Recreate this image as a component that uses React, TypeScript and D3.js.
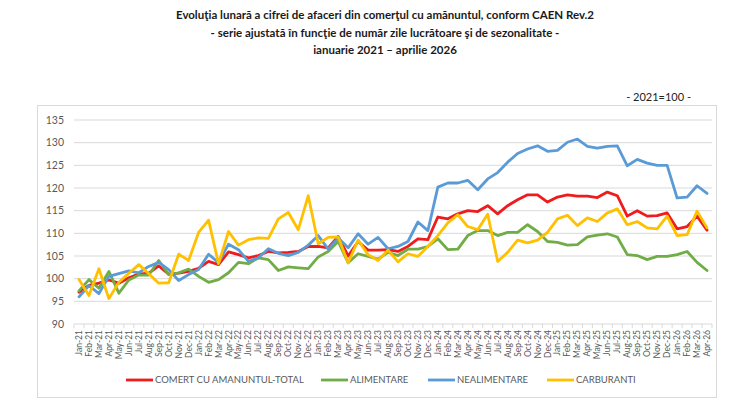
import { useMemo } from "react";
import * as d3 from "d3";

const monthNames = ["Jan", "Feb", "Mar", "Apr", "May", "Jun", "Jul", "Aug", "Sep", "Oct", "Nov", "Dec"];
const years = ["21", "22", "23", "24", "25", "26"];
const months = years
  .flatMap((y) => monthNames.map((m) => `${m}-${y}`))
  .slice(0, 64);

const yTicks = [90, 95, 100, 105, 110, 115, 120, 125, 130, 135];

const total = [
  97.0, 98.5, 99.0, 99.7, 99.0, 100.2, 101.0, 101.2, 102.8, 101.0, 101.2, 101.6,
  102.3, 103.8, 103.1, 105.9, 105.3, 104.6, 105.1, 106.0, 105.7, 105.8, 106.0, 107.1,
  107.1, 106.8, 109.3, 105.0, 108.2, 106.3, 106.3, 106.4, 106.0, 107.1, 108.8, 108.6,
  113.6, 113.2, 114.3, 115.0, 114.8, 116.1, 114.3, 116.1, 117.4, 118.5, 118.5, 116.9,
  118.0, 118.5, 118.2, 118.2, 117.9, 119.1, 118.3, 113.8, 115.0, 113.8, 113.9, 114.5,
  111.0, 111.5, 113.8, 110.7,
];

const alimentare = [
  97.3, 99.8, 97.9, 101.6, 96.8, 99.7, 100.8, 100.8, 104.0, 100.9, 101.3, 102.1,
  100.5, 99.2, 99.8, 101.3, 103.6, 103.3, 104.6, 104.2, 101.8, 102.6, 102.4, 102.2,
  104.8, 106.0, 108.2, 103.5, 105.5, 104.9, 104.3, 105.8, 105.1, 106.5, 106.5, 107.1,
  108.8, 106.4, 106.5, 109.5, 110.6, 110.6, 109.5, 110.2, 110.2, 111.9, 110.4, 108.2,
  108.0, 107.4, 107.5, 109.2, 109.6, 109.9, 109.2, 105.3, 105.1, 104.2, 104.9, 104.9,
  105.3, 106.0, 103.6, 101.8,
];

const nealimentare = [
  96.0, 98.5, 96.7, 100.5, 101.1, 101.7, 101.3, 102.7, 103.6, 102.0, 99.6, 100.9,
  102.0, 105.4, 103.5, 107.6, 106.4, 103.8, 104.6, 106.6, 105.6, 105.1, 105.8, 107.4,
  109.5, 106.5, 109.0, 106.8, 109.9, 107.6, 109.1, 106.6, 107.1, 108.2, 112.5, 110.6,
  120.2, 121.1, 121.1, 121.7, 119.6, 122.0, 123.4, 125.7, 127.6, 128.6, 129.3, 128.1,
  128.3, 130.1, 130.8, 129.2, 128.8, 129.2, 129.3, 124.9, 126.3, 125.5, 125.0, 125.0,
  117.8, 118.0, 120.5, 118.8,
];

const carburanti = [
  99.8, 96.3, 102.2, 95.6, 99.2, 101.2, 103.1, 101.1, 99.0, 99.1, 105.4, 104.0,
  110.2, 112.9, 103.3, 110.4, 107.4, 108.6, 109.0, 108.9, 113.2, 114.6, 110.8, 118.3,
  107.7, 109.1, 109.2, 103.5, 108.5, 105.3, 104.0, 106.3, 103.7, 105.5, 104.9, 107.1,
  109.5, 112.3, 114.1, 111.5, 110.8, 114.2, 103.8, 105.8, 108.5, 107.9, 108.5, 110.2,
  113.2, 114.0, 111.7, 113.4, 112.6, 114.5, 115.4, 111.9, 112.6, 111.2, 111.0, 113.8,
  109.5, 109.7, 114.9, 111.2,
];

const series = [
  { name: "COMERT CU AMANUNTUL-TOTAL", values: total, color: "#ee1c1c" },
  { name: "ALIMENTARE", values: alimentare, color: "#70ad47" },
  { name: "NEALIMENTARE", values: nealimentare, color: "#5b9bd5" },
  { name: "CARBURANTI", values: carburanti, color: "#ffc000" },
];

const titleLines = [
  "Evoluţia lunară a cifrei de afaceri din comerţul cu amănuntul, conform CAEN Rev.2",
  "- serie ajustată în funcţie de număr zile lucrătoare şi de sezonalitate -",
  "ianuarie 2021 – aprilie 2026",
];

const W = 755;
const H = 403;
const font = "Lato, 'Open Sans', sans-serif";
const grid = "#d9d9d9";
const labelColor = "#595959";

export default function App() {
  const x = useMemo(
    () => d3.scaleBand<string>().domain(months).range([74, 712]).padding(0),
    [],
  );
  const y = useMemo(() => d3.scaleLinear().domain([90, 135]).range([324, 120]), []);

  const line = d3
    .line<number>()
    .x((_, i) => (x(months[i]) ?? 0) + x.bandwidth() / 2)
    .y((d) => y(d));

  // legend layout: line start x for each entry
  const legendX = [126, 321, 428, 547];

  return (
    <div style={{ position: "absolute", left: 0, top: 0 }}>
      <svg width={W} height={H} style={{ display: "block", fontFamily: font }}>
        <rect width={W} height={H} fill="#fff" />

        {/* title */}
        {titleLines.map((t, i) => (
          <text
            key={t}
            x={385}
            y={19 + i * 17.5}
            textAnchor="middle"
            fontSize={11.5}
            fontWeight="bold"
            fill="#1a1a1a"
          >
            {t}
          </text>
        ))}

        <text x={691} y={101} textAnchor="end" fontSize={11} fill="#222">
          - 2021=100 -
        </text>

        {/* chart border */}
        <rect x={37.5} y={105.5} width={679} height={292} fill="none" stroke={grid} />

        {/* grid + y labels */}
        {yTicks.map((t) => (
          <g key={t}>
            <line x1={74} x2={712} y1={y(t)} y2={y(t)} stroke={grid} strokeWidth={1} />
            <text
              x={64}
              y={y(t)}
              dy="0.35em"
              textAnchor="end"
              fontSize={10.5}
              fill={labelColor}
            >
              {t}
            </text>
          </g>
        ))}

        {/* x ticks between categories */}
        {months.concat("").map((m, i) => {
          const xp = 74 + i * x.bandwidth();
          return <line key={i} x1={xp} x2={xp} y1={324} y2={328} stroke={grid} />;
        })}

        {/* x labels */}
        {months.map((m) => {
          const cx = (x(m) ?? 0) + x.bandwidth() / 2;
          return (
            <text
              key={m}
              transform={`translate(${cx},330) rotate(-90)`}
              dy="0.35em"
              textAnchor="end"
              fontSize={8.5}
              fill={labelColor}
            >
              {m}
            </text>
          );
        })}

        {/* series */}
        {series.map((s) => (
          <path
            key={s.name}
            d={line(s.values) ?? ""}
            fill="none"
            stroke={s.color}
            strokeWidth={2.8}
            strokeLinejoin="round"
            strokeLinecap="round"
          />
        ))}

        {/* legend */}
        {series.map((s, i) => (
          <g key={s.name} transform={`translate(${legendX[i]},380)`}>
            <line x1={0} x2={27} y1={0} y2={0} stroke={s.color} strokeWidth={2.8} />
            <text x={29} y={0} dy="0.35em" fontSize={9.5} fill={labelColor}>
              {s.name}
            </text>
          </g>
        ))}
      </svg>
    </div>
  );
}
